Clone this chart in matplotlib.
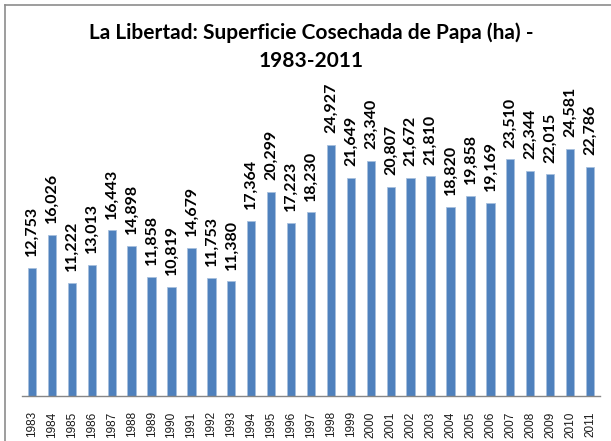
import matplotlib
matplotlib.use("Agg")
import matplotlib.pyplot as plt
from matplotlib.lines import Line2D

years = [str(y) for y in range(1983, 2012)]
values = [12753, 16026, 11222, 13013, 16443, 14898, 11858, 10819, 14679, 11753,
          11380, 17364, 20299, 17223, 18230, 24927, 21649, 23340, 20807, 21672,
          21810, 18820, 19858, 19169, 23510, 22344, 22015, 24581, 22786]
title_lines = ["La Libertad: Superficie Cosechada de Papa (ha) -", "1983-2011"]

fig = plt.figure(figsize=(6.11, 4.41), dpi=100)
ax = fig.add_axes([22/611, 45/441, 578/611, 302/441])
x = list(range(len(years)))
bars = ax.bar(x, values, width=0.42, color="#4F81BD", edgecolor="#A7C0DE", linewidth=0.6)
ax.set_xlim(-0.5, len(years) - 0.5)
ax.set_ylim(0, 30000)
ax.set_yticks([])
ax.set_xticks(x)
ax.set_xticklabels(years, rotation=90, fontsize=8.5, family="Liberation Sans", color="#1a1a1a")
ax.tick_params(axis="x", length=0, pad=11)
for s in ["top", "right", "left"]:
    ax.spines[s].set_visible(False)
ax.spines["bottom"].set_color("#868686")
ax.spines["bottom"].set_linewidth(1)

for xi, v in zip(x, values):
    ax.annotate(f"{v:,}", (xi, v), xytext=(0, 8.5), textcoords="offset points",
                rotation=90, ha="center", va="bottom", fontsize=11.5,
                fontweight="bold", family="Lato", color="black")

fig.text(311/611, 1 - 33/441, title_lines[0], ha="center", va="center", fontsize=15,
         fontweight="bold", family="Lato")
fig.text(311/611, 1 - 61/441, title_lines[1], ha="center", va="center", fontsize=15,
         fontweight="bold", family="Lato")

# outer frame (cropped image: only left and top visible)
fig.add_artist(Line2D([4.5/611, 4.5/611], [0, 1 - 4.5/441], transform=fig.transFigure, color="#8c8c8c", lw=1.2))
fig.add_artist(Line2D([4.5/611, 1], [1 - 4.5/441, 1 - 4.5/441], transform=fig.transFigure, color="#8c8c8c", lw=1.2))

fig.savefig("out.png", dpi=100)
